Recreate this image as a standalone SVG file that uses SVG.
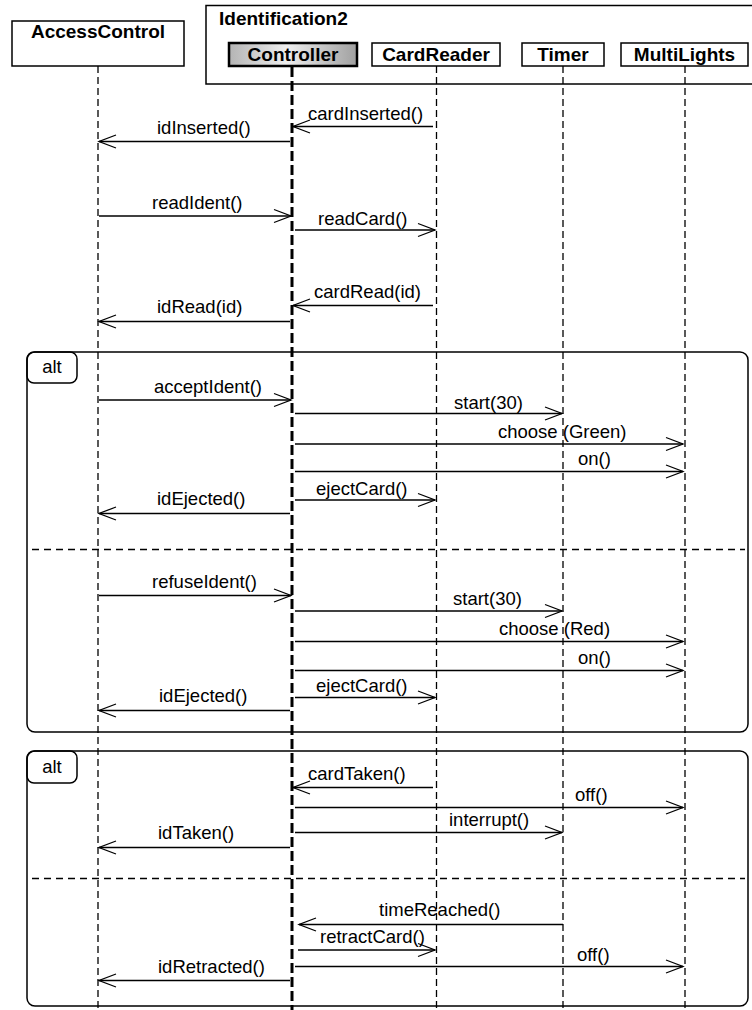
<svg xmlns="http://www.w3.org/2000/svg" width="752" height="1010" viewBox="0 0 752 1010">
<style>
text{font-family:"Liberation Sans",Arial,sans-serif;fill:#000}
.b{font-weight:bold;font-size:19px}
.t{font-size:18.5px}
.box{fill:#fff;stroke:#000;stroke-width:1.5}
.ll{stroke:#000;stroke-width:1.3;stroke-dasharray:7 4;fill:none}
.llc{stroke:#000;stroke-width:3;stroke-dasharray:10 4;fill:none}
.msg{stroke:#000;stroke-width:1.3;fill:none;marker-end:url(#arr)}
.frm{fill:none;stroke:#000;stroke-width:1.5}
.sep{stroke:#000;stroke-width:1.4;stroke-dasharray:7 5}
</style>
<defs>
<linearGradient id="g" x1="0" y1="0" x2="1" y2="0">
<stop offset="0" stop-color="#b4b4b4"/>
<stop offset="0.45" stop-color="#eeeeee"/>
<stop offset="1" stop-color="#a0a0a0"/>
</linearGradient>
<marker id="arr" markerUnits="userSpaceOnUse" markerWidth="22" markerHeight="18" viewBox="-19 -9 22 18" refX="0" refY="0" orient="auto">
<path d="M-17,-6.5 L0,0 L-17,6.5" fill="none" stroke="#000" stroke-width="1.3"/>
</marker>
</defs>

<g id="frame-identification2">
<rect x="206" y="5.5" width="560" height="78.5" class="frm"/>
<text class="b" x="219" y="25">Identification2</text>
</g>

<g id="alt1">
<rect x="27" y="352" width="721" height="380" rx="8" class="frm"/>
<rect x="27" y="352" width="50" height="31" rx="7" class="frm"/>
<text class="t" x="52" y="373" text-anchor="middle">alt</text>
<line x1="32" y1="549.5" x2="745" y2="549.5" class="sep"/>
</g>

<g id="alt2">
<rect x="27" y="751" width="721" height="255" rx="8" class="frm"/>
<rect x="27" y="751" width="50" height="32" rx="7" class="frm"/>
<text class="t" x="52" y="773" text-anchor="middle">alt</text>
<line x1="32" y1="878.5" x2="745" y2="878.5" class="sep"/>
</g>

<g id="lifelines">
<line x1="98" y1="66" x2="98" y2="1010" class="ll"/>
<line x1="436.5" y1="66" x2="436.5" y2="1010" class="ll"/>
<line x1="563" y1="66" x2="563" y2="1010" class="ll"/>
<line x1="685" y1="66" x2="685" y2="1010" class="ll"/>
<line x1="292" y1="67" x2="292" y2="1010" class="llc"/>
</g>

<g id="AccessControl">
<rect x="12" y="21" width="172" height="45" class="box"/>
<text class="b" x="98" y="38" text-anchor="middle">AccessControl</text>
</g>
<g id="Controller">
<rect x="229" y="43" width="128" height="23" fill="url(#g)" stroke="#000" stroke-width="2.5"/>
<text class="b" x="293" y="61" text-anchor="middle">Controller</text>
</g>
<g id="CardReader">
<rect x="372" y="43" width="128" height="23" class="box"/>
<text class="b" x="436" y="61" text-anchor="middle">CardReader</text>
</g>
<g id="Timer">
<rect x="522" y="43" width="82" height="23" class="box"/>
<text class="b" x="563" y="61" text-anchor="middle">Timer</text>
</g>
<g id="MultiLights">
<rect x="621" y="43" width="127" height="23" class="box"/>
<text class="b" x="684.5" y="61" text-anchor="middle">MultiLights</text>
</g>

<g id="connectors">
<line x1="433" y1="126.5" x2="293" y2="126.5" class="msg"/>
<text class="t" x="308" y="120">cardInserted()</text>
<line x1="290" y1="141.5" x2="99" y2="141.5" class="msg"/>
<text class="t" x="157" y="134">idInserted()</text>
<line x1="99" y1="216" x2="291" y2="216" class="msg"/>
<text class="t" x="152" y="209">readIdent()</text>
<line x1="295" y1="230" x2="435" y2="230" class="msg"/>
<text class="t" x="318" y="225">readCard()</text>
<line x1="433" y1="305.5" x2="293" y2="305.5" class="msg"/>
<text class="t" x="314" y="298">cardRead(id)</text>
<line x1="290" y1="321.5" x2="99" y2="321.5" class="msg"/>
<text class="t" x="157" y="313">idRead(id)</text>

<line x1="99" y1="400" x2="291" y2="400" class="msg"/>
<text class="t" x="154" y="392.5">acceptIdent()</text>
<line x1="295" y1="413.5" x2="562" y2="413.5" class="msg"/>
<text class="t" x="454" y="408.5">start(30)</text>
<line x1="295" y1="444" x2="683" y2="444" class="msg"/>
<text class="t" x="498" y="438">choose (Green)</text>
<line x1="295" y1="471.5" x2="683" y2="471.5" class="msg"/>
<text class="t" x="578" y="465">on()</text>
<line x1="295" y1="500" x2="435" y2="500" class="msg"/>
<text class="t" x="316" y="495">ejectCard()</text>
<line x1="290" y1="513.5" x2="99" y2="513.5" class="msg"/>
<text class="t" x="157" y="505">idEjected()</text>

<line x1="99" y1="595.5" x2="291" y2="595.5" class="msg"/>
<text class="t" x="152" y="588">refuseIdent()</text>
<line x1="295" y1="611" x2="562" y2="611" class="msg"/>
<text class="t" x="453" y="605">start(30)</text>
<line x1="295" y1="641.5" x2="683" y2="641.5" class="msg"/>
<text class="t" x="499" y="635">choose (Red)</text>
<line x1="295" y1="670.5" x2="683" y2="670.5" class="msg"/>
<text class="t" x="578" y="664">on()</text>
<line x1="295" y1="697.5" x2="435" y2="697.5" class="msg"/>
<text class="t" x="316" y="692">ejectCard()</text>
<line x1="290" y1="710.5" x2="99" y2="710.5" class="msg"/>
<text class="t" x="159" y="702">idEjected()</text>

<line x1="433" y1="787.5" x2="293" y2="787.5" class="msg"/>
<text class="t" x="308" y="780">cardTaken()</text>
<line x1="295" y1="807.5" x2="683" y2="807.5" class="msg"/>
<text class="t" x="575" y="801">off()</text>
<line x1="295" y1="832.5" x2="562" y2="832.5" class="msg"/>
<text class="t" x="449" y="826">interrupt()</text>
<line x1="290" y1="847.5" x2="99" y2="847.5" class="msg"/>
<text class="t" x="158" y="839">idTaken()</text>

<line x1="563" y1="924.5" x2="299" y2="924.5" class="msg"/>
<text class="t" x="379" y="916">timeReached()</text>
<line x1="298" y1="950" x2="435" y2="950" class="msg"/>
<text class="t" x="320" y="943">retractCard()</text>
<line x1="295" y1="966.5" x2="683" y2="966.5" class="msg"/>
<text class="t" x="577" y="961">off()</text>
<line x1="290" y1="980.5" x2="99" y2="980.5" class="msg"/>
<text class="t" x="158" y="973">idRetracted()</text>
</g>
</svg>
